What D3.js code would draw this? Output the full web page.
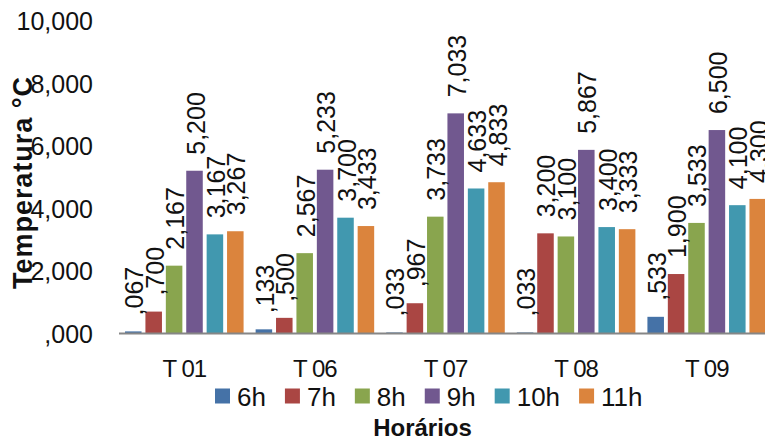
<!DOCTYPE html>
<html>
<head>
<meta charset="utf-8">
<script src="https://cdn.jsdelivr.net/npm/d3@7"></script>
<style>
  html, body { margin: 0; padding: 0; background: #fff; }
  svg { display: block; font-family: "Liberation Sans", Arial, sans-serif; }
</style>
</head>
<body>
<svg id="chart" width="765" height="439"></svg>
<script>
// ---- data ----
const categories = ["T 01", "T 06", "T 07", "T 08", "T 09"];
const seriesNames = ["6h", "7h", "8h", "9h", "10h", "11h"];
const seriesColors = ["#4572A7", "#AA4643", "#89A54E", "#71588F", "#4198AF", "#DB843D"];
const values6h  = [0.067, 0.133, 0.033, 0.033, 0.533];
const values7h  = [0.700, 0.500, 0.967, 3.200, 1.900];
const values8h  = [2.167, 2.567, 3.733, 3.100, 3.533];
const values9h  = [5.200, 5.233, 7.033, 5.867, 6.500];
const values10h = [3.167, 3.700, 4.633, 3.400, 4.100];
const values11h = [3.267, 3.433, 4.833, 3.333, 4.300];
const tickValues = [0, 2, 4, 6, 8, 10];
const tickLabels = [",000", "2,000", "4,000", "6,000", "8,000", "10,000"];
const yTitle = "Temperatura °C";
const xTitle = "Horários";

const seriesValues = [values6h, values7h, values8h, values9h, values10h, values11h];

// ---- layout ----
const svg = d3.select("#chart");
const W = 765, H = 439;

const y = d3.scaleLinear().domain([0, 10]).range([333.5, 20.5]);
const x0 = d3.scaleBand().domain(categories).range([119, 772]).paddingInner(0).paddingOuter(0);
const x1 = d3.scaleBand().domain(seriesNames).range([0, x0.bandwidth()])
  .paddingInner(0.19).paddingOuter(0.295);
const color = d3.scaleOrdinal().domain(seriesNames).range(seriesColors);

const fmt = v => {
  let s = d3.format(".3f")(v).replace(".", ",");
  if (s.startsWith("0,")) s = s.slice(1);
  return s;
};

// data table
const table = [];
categories.forEach((c, ci) => {
  seriesNames.forEach((s, si) => {
    table.push({ cat: c, series: s, value: seriesValues[si][ci] });
  });
});

// y tick labels (no axis line)
const yAxis = d3.axisLeft(y).tickValues(tickValues)
  .tickFormat((d, i) => tickLabels[i]).tickSize(0).tickPadding(0);
const yg = svg.append("g").attr("transform", "translate(93,0)").call(yAxis);
yg.select(".domain").remove();
yg.selectAll("text")
  .attr("x", 0).attr("dy", "0.36em")
  .style("font-family", "'Liberation Sans', Arial, sans-serif")
  .style("font-size", "25px").attr("fill", "#111");

// bars
svg.append("g").selectAll("rect").data(table).join("rect")
  .attr("x", d => x0(d.cat) + x1(d.series))
  .attr("width", x1.bandwidth())
  .attr("y", d => y(d.value))
  .attr("height", d => y(0) - y(d.value))
  .attr("fill", d => color(d.series));

// x axis line + labels
const xAxis = d3.axisBottom(x0).tickSize(0).tickPadding(0);
const xg = svg.append("g").attr("transform", `translate(0,${y(0)})`).call(xAxis);
xg.select(".domain").remove();
xg.append("line").attr("x1", 119).attr("x2", W).attr("y1", 0).attr("y2", 0)
  .attr("stroke", "#868686").attr("stroke-width", 2);
xg.selectAll(".tick text")
  .attr("y", 43).attr("dy", 0)
  .style("font-family", "'Liberation Sans', Arial, sans-serif")
  .style("font-size", "24px").style("letter-spacing", "-1px").attr("fill", "#111");

// value labels (rotated)
svg.append("g").selectAll("text").data(table).join("text")
  .attr("transform", d => {
    const cx = x0(d.cat) + x1(d.series) + x1.bandwidth() / 2;
    return `translate(${cx},${y(d.value) - 16}) rotate(-90)`;
  })
  .attr("dy", "0.4em")
  .attr("text-anchor", "start")
  .style("font-size", "25px")
  .attr("fill", "#111")
  .text(d => fmt(d.value));

// y title
svg.append("text")
  .attr("transform", "translate(32,183) rotate(-90)")
  .attr("text-anchor", "middle")
  .style("font-size", "27px").style("font-weight", "bold")
  .attr("textLength", 212).attr("lengthAdjust", "spacing")
  .attr("fill", "#111")
  .text(yTitle);

// legend
const legend = svg.append("g");
let lx = 215;
seriesNames.forEach(s => {
  const g = legend.append("g").attr("transform", `translate(${lx},0)`);
  g.append("rect").attr("x", 0).attr("y", 388.5).attr("width", 15).attr("height", 15)
    .attr("fill", color(s));
  const t = g.append("text").attr("x", 22).attr("y", 405.5)
    .style("font-size", "26px").attr("fill", "#111").text(s);
  const w = t.node().getComputedTextLength();
  lx += 22 + w + 19;
});

// x title
svg.append("text")
  .attr("x", 422.5).attr("y", 435.5)
  .attr("text-anchor", "middle")
  .style("font-size", "24px").style("font-weight", "bold")
  .attr("fill", "#111")
  .text(xTitle);
</script>
</body>
</html>
